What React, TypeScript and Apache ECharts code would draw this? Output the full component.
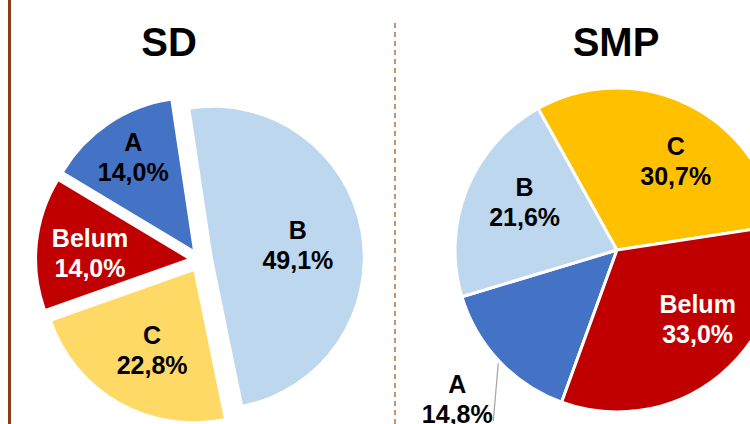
import React, { useEffect, useRef } from 'react';
import * as echarts from 'echarts';

const categories = ['A', 'B', 'C', 'Belum'];
const sdValues = [14.0, 49.1, 22.8, 14.0];
const smpValues = [14.8, 21.6, 30.7, 33.0];
const chartTitles = ['SD', 'SMP'];

const sdColors = ['#4472C4', '#BDD7EE', '#FFD966', '#C00000'];
const smpColors = ['#4472C4', '#BDD7EE', '#FFC000', '#C00000'];
const labelColors = ['#000000', '#000000', '#000000', '#FFFFFF'];

// small label nudges (px) relative to the library's default label positions
const sdLabelNudge = [[-7, -14], [-8, 4], [5, -4], [-3, 4]];
const smpLabelNudge = [[0, 0], [8, -7], [11, 8], [12, -15]];

const FONT = '"Liberation Sans", Arial, sans-serif';
const fmt = (v: number) => v.toFixed(1).replace('.', ',') + '%';
const labelFormatter = (p: any) => `${p.name}\n${fmt(Number(p.value))}`;

const SD_CENTER = [200, 260];
const SD_R = 150;
const SD_EXPLODE = 13;
const SMP_CENTER = [617, 250];
const SMP_R = 162;

const labelText = {
  fontFamily: FONT,
  fontWeight: 'bold' as const,
  fontSize: 25,
  lineHeight: 30,
};

const nudgeLayout = (nudges: number[][]) => (p: any) => {
  const n = nudges[p.dataIndex];
  const r = p.labelRect;
  if (!n || !r) return {};
  return {
    x: r.x + r.width / 2 + n[0],
    y: r.y + r.height / 2 + n[1],
    align: 'center',
    verticalAlign: 'middle',
  };
};

export default function App() {
  const ref = useRef<HTMLDivElement>(null);
  useEffect(() => {
    if (!ref.current) return;
    const chart = echarts.init(ref.current, undefined, { renderer: 'svg' });
    const option: any = {
      animation: false,
      backgroundColor: '#ffffff',
      graphic: [
        {
          type: 'line',
          shape: { x1: 9.5, y1: 0, x2: 9.5, y2: 424 },
          style: { stroke: '#8B3F12', lineWidth: 3 },
          silent: true,
        },
        {
          type: 'line',
          shape: { x1: 395, y1: 23, x2: 395, y2: 424 },
          style: { stroke: '#C8956A', lineWidth: 2, lineDash: [5, 4] },
          silent: true,
        },
        {
          type: 'text',
          style: {
            text: chartTitles[0], x: 169, y: 42, align: 'center', verticalAlign: 'middle',
            fontFamily: FONT, fontWeight: 'bold', fontSize: 40, fill: '#000',
          },
          silent: true,
        },
        {
          type: 'text',
          style: {
            text: chartTitles[1], x: 616, y: 42, align: 'center', verticalAlign: 'middle',
            fontFamily: FONT, fontWeight: 'bold', fontSize: 40, fill: '#000',
          },
          silent: true,
        },
      ],
      series: [
        {
          type: 'pie',
          center: SD_CENTER,
          radius: SD_R,
          startAngle: 149,
          clockwise: true,
          selectedMode: 'multiple',
          selectedOffset: SD_EXPLODE,
          avoidLabelOverlap: false,
          emphasis: { disabled: true },
          label: { show: false },
          labelLine: { show: false },
          data: categories.map((c, i) => ({
            name: c, value: sdValues[i], selected: true,
            itemStyle: { color: sdColors[i] },
          })),
        },
        {
          // label carrier: transparent, sized so that inside labels sit ~0.61R out (plus explode offset)
          type: 'pie',
          center: SD_CENTER,
          radius: 2 * (SD_R * 0.61 + SD_EXPLODE),
          startAngle: 149,
          clockwise: true,
          silent: true,
          avoidLabelOverlap: false,
          emphasis: { disabled: true },
          itemStyle: { color: 'rgba(0,0,0,0)' },
          z: 5,
          labelLine: { show: false },
          labelLayout: nudgeLayout(sdLabelNudge),
          data: categories.map((c, i) => ({
            name: c, value: sdValues[i],
            label: { show: true, position: 'inside', formatter: labelFormatter, color: labelColors[i], ...labelText },
          })),
        },
        {
          type: 'pie',
          center: SMP_CENTER,
          radius: SMP_R,
          startAngle: 250,
          clockwise: true,
          avoidLabelOverlap: false,
          emphasis: { disabled: true },
          itemStyle: { borderColor: '#ffffff', borderWidth: 3 },
          label: { show: false },
          labelLine: { show: false },
          labelLayout: (p: any) => {
            if (p.dataIndex !== 0 || !p.labelLinePoints) return {};
            const [x0, y0] = p.labelLinePoints[0];
            return {
              x: x0 - 42, y: y0 + 38, align: 'center', verticalAlign: 'middle',
              labelLinePoints: [[x0 - 1, y0 + 2], [x0 - 6, y0 + 60], [x0 - 6, y0 + 60]],
            };
          },
          data: categories.map((c, i) => ({
            name: c, value: smpValues[i],
            itemStyle: { color: smpColors[i] },
            label: i === 0
              ? { show: true, position: 'outside', formatter: labelFormatter, color: '#000', ...labelText }
              : { show: false },
            labelLine: i === 0
              ? { show: true, length: 15, length2: 10, lineStyle: { color: '#A6A6A6', width: 1.25 } }
              : { show: false },
          })),
        },
        {
          type: 'pie',
          center: SMP_CENTER,
          radius: SMP_R * 1.3,
          startAngle: 250,
          clockwise: true,
          silent: true,
          avoidLabelOverlap: false,
          emphasis: { disabled: true },
          itemStyle: { color: 'rgba(0,0,0,0)' },
          z: 5,
          labelLine: { show: false },
          labelLayout: nudgeLayout(smpLabelNudge),
          data: categories.map((c, i) => ({
            name: c, value: smpValues[i],
            label: i === 0
              ? { show: false }
              : { show: true, position: 'inside', formatter: labelFormatter, color: labelColors[i], ...labelText },
          })),
        },
      ],
    };
    chart.setOption(option);
    return () => chart.dispose();
  }, []);
  return (
    <div
      ref={ref}
      style={{ position: 'fixed', left: 0, top: 0, width: 750, height: 424, background: '#fff' }}
    />
  );
}
